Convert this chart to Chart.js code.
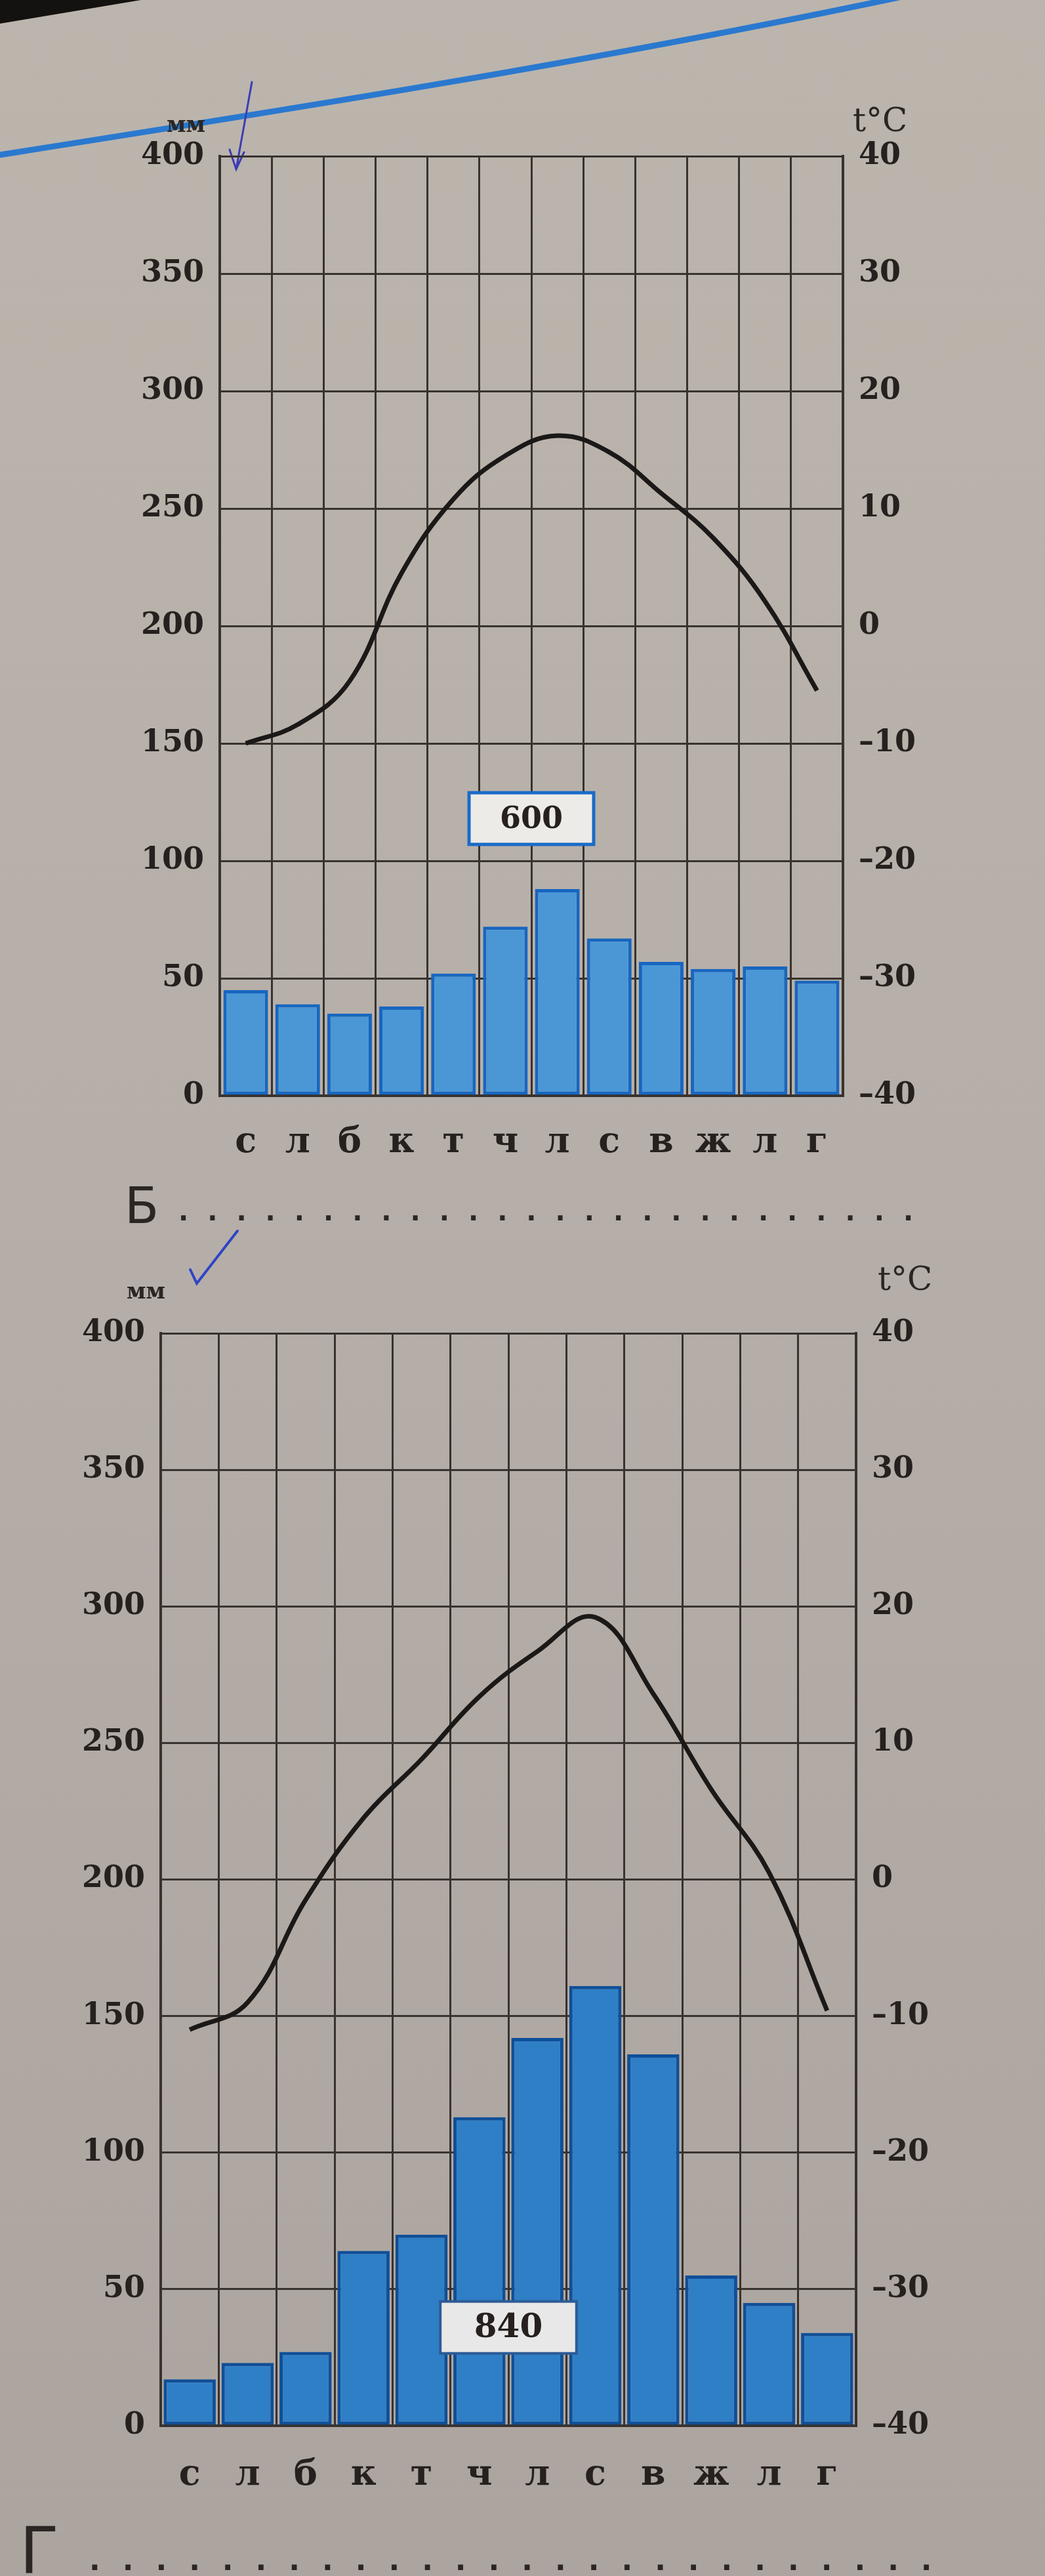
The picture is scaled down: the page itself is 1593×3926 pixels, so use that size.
<!DOCTYPE html>
<html lang="ru">
<head>
<meta charset="utf-8">
<title>Климатограммы Б и Г</title>
<script src="https://cdn.jsdelivr.net/npm/chart.js@4.4.1/dist/chart.umd.min.js"></script>
<style>
  html, body { margin: 0; padding: 0; }
  body {
    width: 1593px; height: 3926px; position: relative; overflow: hidden;
    background: linear-gradient(180deg, #bcb5ad 0%, #b6afa9 45%, #aca49f 100%);
    color: #2b2623;
  }
  #page { position: absolute; left: 0; top: 0; }
  .holder { position: absolute; left: 0; width: 1593px; }
  .t { position: absolute; white-space: nowrap; line-height: 1; }
  .unit { font-family: 'DejaVu Serif', serif; }
  .letter { font-family: 'DejaVu Sans', sans-serif; }
  .dots { font-family: 'DejaVu Sans', sans-serif; font-weight: bold; }
</style>
</head>
<body>
<canvas id="page" width="1593" height="3926"></canvas>

<div class="holder" style="top:0;height:1800px"><canvas id="chartB"></canvas></div>
<div class="holder" style="top:1900px;height:2026px"><canvas id="chartG"></canvas></div>

<!-- axis titles -->
<div class="t unit" style="left:254px;top:172px;font-size:34px;font-weight:bold">мм</div>
<div class="t unit" style="left:1300px;top:158px;font-size:50px">t°C</div>
<div class="t unit" style="left:193px;top:1950px;font-size:34px;font-weight:bold">мм</div>
<div class="t unit" style="left:1338px;top:1924px;font-size:50px">t°C</div>

<!-- answer lines -->
<div class="t letter" style="left:190px;top:1800px;font-size:76px">Б</div>
<div class="t dots" style="left:272px;top:1826px;font-size:40px;letter-spacing:29px">..........................</div>
<div class="t letter" style="left:30px;top:3838px;font-size:98px">Г</div>
<div class="t dots" style="left:136px;top:3880px;font-size:44px;letter-spacing:34px">..........................</div>

<script>
// months (Russian initials as printed on the page)
const months = ['с', 'л', 'б', 'к', 'т', 'ч', 'л', 'с', 'в', 'ж', 'л', 'г'];

// climate chart Б
const precipB = [45, 39, 35, 38, 52, 72, 88, 67, 57, 54, 55, 49];
const tempB = [-10, -8.4, -4.7, 4.5, 10.8, 14.5, 16.2, 14.8, 11.3, 7.5, 2.1, -5.5];
const totalB = 600;

// climate chart Г
const precipG = [17, 23, 27, 64, 70, 113, 142, 161, 136, 55, 45, 34];
const tempG = [-11, -9, -1.5, 4.5, 8.8, 13.4, 16.7, 19.2, 13.6, 6.6, 0.5, -9.6];
const totalG = 840;

// axis ticks
const mmTicks = [0, 50, 100, 150, 200, 250, 300, 350, 400];
const tempTicks = [-40, -30, -20, -10, 0, 10, 20, 30, 40];

const GRID = '#38332f';
const INK = '#26211e';
const SERIF = "'DejaVu Serif', serif";

// framed annual total ("600", "840") placed in data space
const totalBox = {
    id: 'totalBox',
    afterDatasetsDraw(chart, args, o) {
        const { ctx, scales: { x, y } } = chart;
        const cx = x.getPixelForValue(o.at);
        const cy = y.getPixelForValue(o.mm);
        const w = (x.getPixelForValue(1) - x.getPixelForValue(0)) * o.cols;
        const h = Math.abs(y.getPixelForValue(0) - y.getPixelForValue(o.rows));
        ctx.save();
        ctx.fillStyle = o.fill;
        ctx.fillRect(cx - w / 2, cy - h / 2, w, h);
        ctx.lineWidth = o.lineWidth;
        ctx.strokeStyle = o.edge;
        ctx.strokeRect(cx - w / 2, cy - h / 2, w, h);
        ctx.fillStyle = INK;
        ctx.font = 'bold ' + o.size + 'px ' + SERIF;
        ctx.textAlign = 'center';
        ctx.textBaseline = 'middle';
        ctx.fillText(o.text, cx, cy + 2);
        ctx.restore();
    }
};

function climateChart(id, precip, temp, total, look) {
    const canvas = document.getElementById(id);
    const H = canvas.parentNode.clientHeight;
    const tickFont = { family: SERIF, size: 46, weight: 'bold' };

    return new Chart(canvas, {
        data: {
            labels: months,
            datasets: [
                {
                    type: 'line',
                    data: temp,
                    yAxisID: 'y1',
                    borderColor: '#1b1918',
                    borderWidth: 7,
                    pointRadius: 0,
                    tension: 0.4,
                    order: 0
                },
                {
                    type: 'bar',
                    data: precip,
                    yAxisID: 'y',
                    backgroundColor: look.fill,
                    borderColor: look.edge,
                    borderWidth: 5,
                    borderSkipped: false,
                    categoryPercentage: 1,
                    barPercentage: look.barPct,
                    order: 1
                }
            ]
        },
        options: {
            responsive: true,
            maintainAspectRatio: false,
            animation: false,
            layout: { padding: { top: look.top, left: 0, right: 0, bottom: 0 } },
            plugins: {
                legend: { display: false },
                tooltip: { enabled: false },
                totalBox: Object.assign({ text: String(total) }, look.box)
            },
            scales: {
                x: {
                    grid: { color: GRID, lineWidth: 3, drawTicks: false, offset: true },
                    border: { color: GRID, width: 4 },
                    ticks: { font: { family: SERIF, size: 54, weight: 'bold' }, color: INK, padding: look.xPad },
                    afterFit: s => { s.height = H - look.bottom; }
                },
                y: {
                    position: 'left',
                    min: 0,
                    max: 400,
                    afterBuildTicks: s => { s.ticks = mmTicks.map(v => ({ value: v })); },
                    grid: { color: GRID, lineWidth: 3, drawTicks: false },
                    border: { color: GRID, width: 4 },
                    ticks: { font: tickFont, color: INK, padding: 24 },
                    afterFit: s => { s.width = look.left; }
                },
                y1: {
                    position: 'right',
                    min: -40,
                    max: 40,
                    afterBuildTicks: s => { s.ticks = tempTicks.map(v => ({ value: v })); },
                    grid: { display: false },
                    border: { color: GRID, width: 4 },
                    ticks: {
                        font: tickFont,
                        color: INK,
                        padding: 16,
                        callback: v => v < 0 ? '\u2013' + Math.abs(v) : String(v)
                    },
                    afterFit: s => { s.width = 1593 - look.right; }
                }
            }
        },
        plugins: [totalBox]
    });
}

climateChart('chartB', precipB, tempB, totalB, {
    top: 238, bottom: 1670, left: 335, right: 1285, xPad: 40,
    fill: '#4b97d6', edge: '#1766c0', barPct: 0.86,
    box: { at: 5.5, mm: 118, cols: 2.4, rows: 22, fill: '#ecebe8', edge: '#1a6cc6', lineWidth: 5, size: 46 }
});

climateChart('chartG', precipG, tempG, totalG, {
    top: 132, bottom: 1797, left: 245, right: 1305, xPad: 44,
    fill: '#2f7fc7', edge: '#0f4f98', barPct: 0.9,
    box: { at: 5.5, mm: 36, cols: 2.35, rows: 19, fill: '#e9e8e8', edge: '#2c5b96', lineWidth: 4, size: 50 }
});

// pen marks on the page (decoration, not data)
const pg = document.getElementById('page').getContext('2d');
pg.fillStyle = '#141210';
pg.beginPath();
pg.moveTo(0, 0); pg.lineTo(215, 0); pg.lineTo(0, 36); pg.closePath();
pg.fill();

pg.strokeStyle = '#2a79cf';
pg.lineWidth = 9;
pg.lineCap = 'round';
pg.beginPath();
pg.moveTo(0, 236);
pg.bezierCurveTo(420, 170, 900, 95, 1370, -4);
pg.stroke();

pg.strokeStyle = '#3c3db4';
pg.lineWidth = 3;
pg.beginPath();
pg.moveTo(384, 125); pg.lineTo(360, 258);
pg.moveTo(350, 228); pg.lineTo(360, 258); pg.lineTo(372, 232);
pg.stroke();

pg.strokeStyle = '#2f45c4';
pg.lineWidth = 4;
pg.beginPath();
pg.moveTo(290, 1935); pg.lineTo(300, 1956); pg.lineTo(362, 1876);
pg.stroke();
</script>
</body>
</html>
